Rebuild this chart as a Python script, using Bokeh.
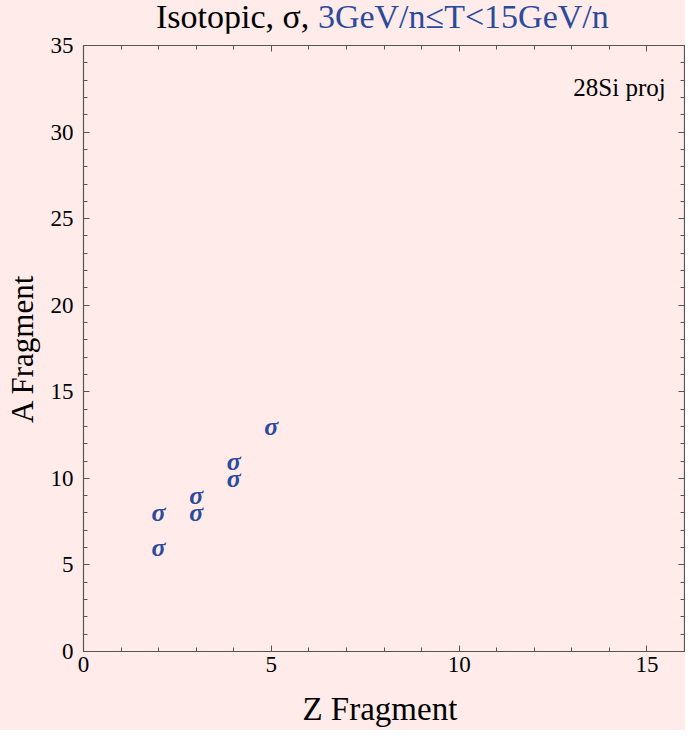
from bokeh.plotting import figure
from bokeh.layouts import column
from bokeh.models import Range1d, LinearAxis, Label, FixedTicker, ColumnDataSource, CustomJSTickFormatter, Div
from bokeh.core.properties import value
from bokeh.embed import file_html
from bokeh.resources import INLINE

# data
z_frag = [2, 2, 3, 3, 4, 4, 5]
a_frag = [6, 8, 8, 9, 10, 11, 13]
marker_txt = ["σ"] * len(z_frag)
x_ticks = [0, 5, 10, 15]
y_ticks = [0, 5, 10, 15, 20, 25, 30, 35]
title_black = "Isotopic, σ,"
title_blue = "3GeV/n≤T&lt;15GeV/n"
note = "28Si proj"

BG = "#ffebe9"
BLUE = "#2c4a9c"
AXC = "#555555"
FONT = "Liberation Serif"

# title strip as HTML text (two colours on one line)
title_html = (
    f'<div style="font-family:\'{FONT}\'; font-size:34px; line-height:27px; '
    f'padding-left:156px; padding-top:3px; white-space:nowrap; color:black;">'
    f'{title_black} <span style="color:{BLUE};">{title_blue}</span></div>'
)
t = Div(text=title_html, width=685, height=33, margin=(0, 0, 0, 0),
        styles={"background-color": BG})

p = figure(width=685, height=697, output_backend="svg", toolbar_location=None,
           x_range=Range1d(0, 16), y_range=Range1d(0, 35),
           x_axis_location=None, y_axis_location=None,
           min_border_left=83, min_border_right=1, min_border_top=12, min_border_bottom=79)
p.background_fill_color = BG
p.border_fill_color = BG
p.outline_line_color = AXC
p.outline_line_width = 1.2
p.grid.visible = False

blank = CustomJSTickFormatter(code="return ''")

def style(ax, labels=True):
    ax.axis_line_color = AXC
    ax.major_tick_line_color = AXC
    ax.minor_tick_line_color = AXC
    ax.major_tick_in = 6
    ax.major_tick_out = 0
    ax.minor_tick_in = 4
    ax.minor_tick_out = 0
    if labels:
        ax.major_label_text_font = FONT
        ax.major_label_text_font_size = "23px"
        ax.major_label_text_color = "black"
        ax.axis_label_text_font = FONT
        ax.axis_label_text_font_size = "31px"
        ax.axis_label_text_font_style = "normal"
        ax.axis_label_text_color = "black"
    else:
        ax.formatter = blank
        ax.major_label_standoff = 0

xb = LinearAxis(ticker=FixedTicker(ticks=x_ticks, minor_ticks=list(range(0, 17))),
                axis_label="Z  Fragment")
style(xb)
xb.axis_label_text_font_size = "33px"
xb.major_label_standoff = 5
xb.axis_label_standoff = 16
p.add_layout(xb, "below")

xt = LinearAxis(ticker=FixedTicker(ticks=x_ticks, minor_ticks=list(range(0, 17))))
style(xt, labels=False)
p.add_layout(xt, "above")

yl = LinearAxis(ticker=FixedTicker(ticks=y_ticks, minor_ticks=list(range(0, 36))),
                axis_label="A Fragment")
style(yl)
yl.major_label_standoff = 10
yl.axis_label_standoff = 8
p.add_layout(yl, "left")

yr = LinearAxis(ticker=FixedTicker(ticks=y_ticks, minor_ticks=list(range(0, 36))))
style(yr, labels=False)
p.add_layout(yr, "right")

src = ColumnDataSource(dict(x=z_frag, y=a_frag, t=marker_txt))
p.text(x="x", y="y", text="t", source=src, text_font=value(FONT),
       text_font_style="bold italic", text_font_size="26px", text_color=BLUE,
       text_align="center", text_baseline="middle")

p.add_layout(Label(x=15.5, y=32.58, text=note, text_font=FONT,
                   text_font_size="25px", text_color="black",
                   text_align="right", text_baseline="alphabetic"))

layout = column(t, p, spacing=0, styles={"background-color": BG})
open("out.html", "w").write(file_html(layout, INLINE))
